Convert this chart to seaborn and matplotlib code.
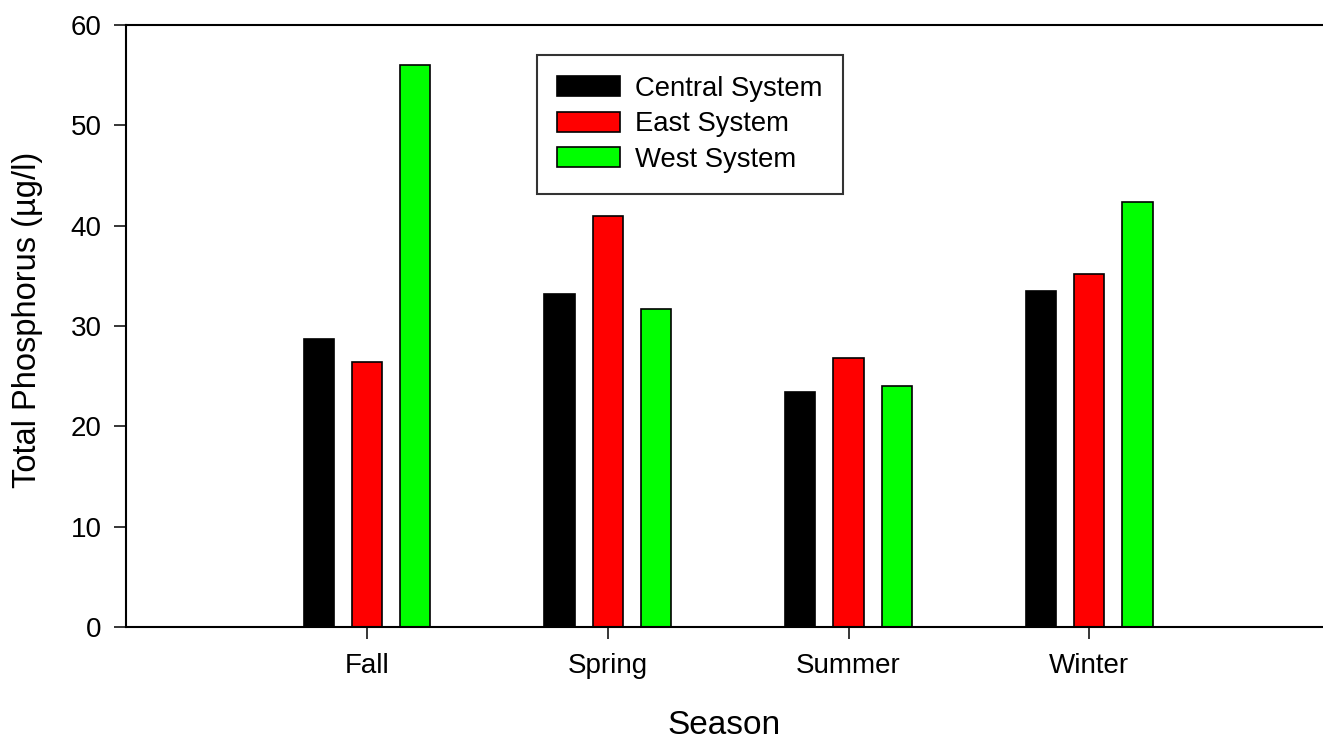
import pandas as pd
import matplotlib.pyplot as plt
import seaborn as sns

# data
seasons = ['Fall', 'Spring', 'Summer', 'Winter']
central = [28.7, 33.2, 23.4, 33.5]
east = [26.4, 41.0, 26.8, 35.2]
west = [56.0, 31.7, 24.0, 42.4]
systems = ['Central System', 'East System', 'West System']
colors = {'Central System': '#000000', 'East System': '#ff0000', 'West System': '#00ff00'}

rows = []
for name, vals in zip(systems, [central, east, west]):
    for s, v in zip(seasons, vals):
        rows.append({'Season': s, 'System': name, 'TP': v})
df = pd.DataFrame(rows)

sns.set_style('white')
plt.rcParams['font.family'] = ['Liberation Sans', 'DejaVu Sans']

fig = plt.figure(figsize=(13.23, 7.40), dpi=100)
ax = fig.add_axes([0.0952, 0.1527, 0.9048, 0.8135])

sns.barplot(data=df, x='Season', y='TP', hue='System', order=seasons,
            hue_order=systems, palette=colors, width=0.6, gap=0.375,
            edgecolor='black', linewidth=1.2, saturation=1, ax=ax)

ax.set_xlim(-1, 3.97)
ax.set_ylim(0, 60)
ax.set_yticks(range(0, 61, 10))
ax.set_xlabel('Season', fontsize=24, color='black')
ax.set_ylabel('Total Phosphorus (\u00b5g/l)', fontsize=23.5, color='black')
ax.xaxis.set_label_coords(0.5, -0.163)
ax.yaxis.set_label_coords(-0.082, 0.51)
ax.xaxis.label.set_va('center')
ax.yaxis.label.set_va('center')
ax.tick_params(axis='both', direction='out', length=8.5, width=1.1, labelsize=20,
               left=True, bottom=True, colors='black')
ax.tick_params(axis='x', pad=10)
ax.tick_params(axis='y', pad=9)

for side in ['left', 'bottom', 'top']:
    ax.spines[side].set_visible(True)
    ax.spines[side].set_color('black')
    ax.spines[side].set_linewidth(1.5)
ax.spines['right'].set_visible(False)

leg = ax.legend(loc='upper left', bbox_to_anchor=(0.343, 0.95), borderaxespad=0,
                fontsize=19.8, frameon=True, fancybox=False, edgecolor='black',
                handlelength=2.3, handleheight=0.75, handletextpad=0.54,
                labelspacing=0.35, borderpad=0.75)
leg.get_frame().set_linewidth(1.5)
for t in leg.get_texts():
    t.set_color('black')

plt.savefig('out.png', dpi=100)
plt.close()
